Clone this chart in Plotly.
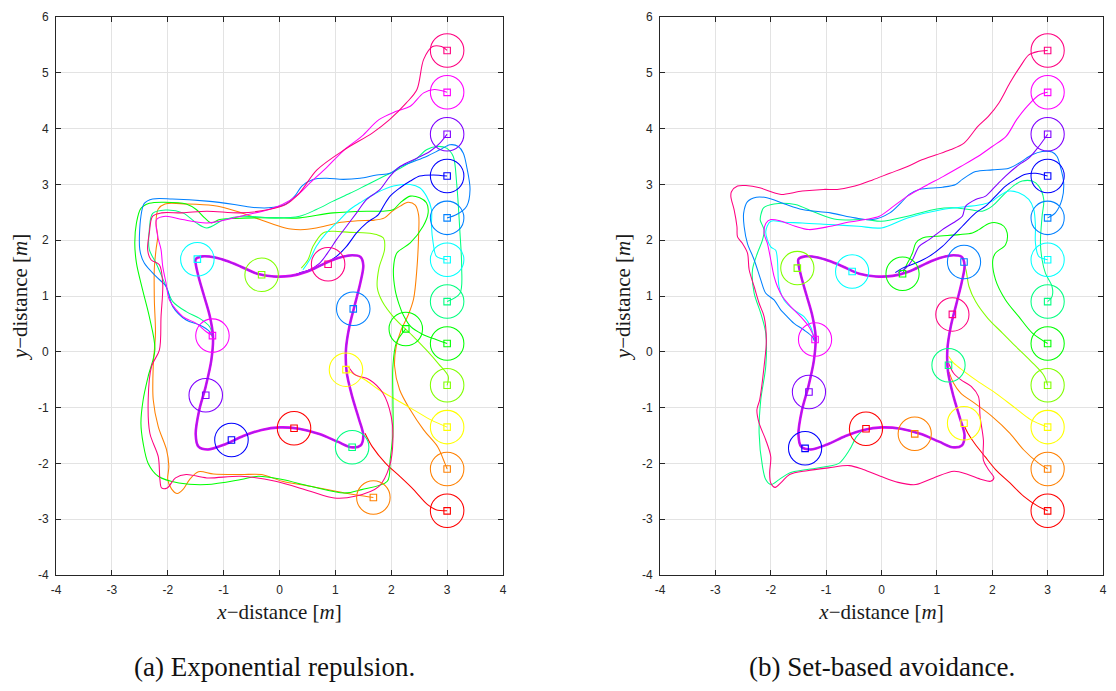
import plotly.graph_objects as go

# ---------------- data ----------------
AGENT_NAMES = ["red", "orange", "yellow", "yellowgreen", "green", "springgreen",
               "cyan", "azure", "blue", "violet", "magenta", "rose"]
AGENT_COLORS = ["#ff0000", "#ff8000", "#ffff00", "#80ff00", "#00ff00", "#00ff80",
                "#00ffff", "#0080ff", "#0000ff", "#8000ff", "#ff00ff", "#ff0080"]

START_X = [3, 3, 3, 3, 3, 3, 3, 3, 3, 3, 3, 3]
START_Y = [-2.85, -2.1, -1.35, -0.6, 0.15, 0.9, 1.65, 2.4, 3.15, 3.9, 4.65, 5.4]

FINAL_A_X = [0.26, 1.68, 1.19, -0.32, 2.26, 1.30, -1.47, 1.32, -0.86, -1.32, -1.20, 0.87]
FINAL_A_Y = [-1.37, -2.61, -0.32, 1.38, 0.41, -1.71, 1.66, 0.77, -1.58, -0.78, 0.29, 1.57]

FINAL_B_X = [-0.28, 0.60, 1.49, -1.52, 0.38, 1.21, -0.53, 1.49, -1.38, -1.31, -1.20, 1.28]
FINAL_B_Y = [-1.38, -1.47, -1.28, 1.50, 1.40, -0.24, 1.44, 1.61, -1.73, -0.72, 0.22, 0.67]

CIRCLE_R = 0.3

# reference loop (travelled counter-clockwise by all agents)
LOOP = [(-1.50, 1.66), (-1.38, 1.71), (-1.15, 1.69), (-0.95, 1.63), (-0.70, 1.53), (-0.40, 1.40),
        (-0.10, 1.35), (0.20, 1.36), (0.50, 1.44), (0.80, 1.58), (1.05, 1.68), (1.30, 1.73),
        (1.45, 1.70), (1.50, 1.55), (1.45, 1.25), (1.35, 0.85), (1.25, 0.45), (1.19, 0.05),
        (1.20, -0.35), (1.30, -0.80), (1.42, -1.20), (1.50, -1.50), (1.45, -1.68), (1.28, -1.71),
        (1.04, -1.61), (0.70, -1.47), (0.35, -1.38), (0.0, -1.355), (-0.32, -1.40), (-0.65, -1.51),
        (-0.98, -1.66), (-1.28, -1.75), (-1.45, -1.70), (-1.50, -1.48), (-1.44, -1.06), (-1.32, -0.62),
        (-1.22, -0.15), (-1.19, 0.28), (-1.25, 0.65), (-1.35, 1.00), (-1.45, 1.35), (-1.50, 1.58),
        (-1.50, 1.66)]

# ---- panel (a): exponential repulsion ----
a_red = [(3, -2.85), (2.80, -2.83), (2.65, -2.74), (2.40, -2.47), (2.15, -2.23), (1.90, -2.0),
         (1.66, -1.70), (1.53, -1.46)]
a_orange = [(3, -2.1), (2.96, -2.0), (2.83, -1.70), (2.58, -1.40), (2.34, -1.04), (2.15, -0.68),
            (2.06, -0.26), (2.09, 0.10), (2.18, 0.40), (2.30, 0.65), (2.40, 0.95), (2.46, 1.50),
            (2.49, 2.10), (2.49, 2.45), (2.43, 2.63), (2.30, 2.68), (2.16, 2.61), (2.02, 2.52),
            (1.88, 2.40), (1.70, 2.36), (1.40, 2.35), (1.10, 2.32), (0.80, 2.25), (0.45, 2.19),
            (0.20, 2.20), (0.0, 2.25), (-0.35, 2.37), (-0.77, 2.52), (-1.19, 2.62), (-1.67, 2.65),
            (-2.05, 2.65), (-2.17, 2.56), (-2.21, 2.31), (-2.18, 2.07), (-2.21, 1.83), (-2.24, 1.50),
            (-2.24, 0.93), (-2.22, 0.33), (-2.26, -0.26), (-2.26, -0.86), (-2.17, -1.34),
            (-2.02, -1.76), (-1.98, -2.05), (-2.0, -2.29), (-1.93, -2.46), (-1.83, -2.54),
            (-1.73, -2.47), (-1.61, -2.29), (-1.45, -2.15), (-1.18, -2.19), (-0.69, -2.20),
            (-0.32, -2.20), (0.05, -2.32), (0.55, -2.41), (1.16, -2.53), (1.47, -2.58), (1.68, -2.61)]
a_yellow = [(3, -1.35), (2.71, -1.22), (2.40, -1.04), (2.09, -0.86), (1.78, -0.68), (1.53, -0.50),
            (1.35, -0.41), (1.19, -0.32)]
a_yellowgreen = [(3, -0.6), (3.02, -0.44), (2.85, -0.22), (2.64, 0.02), (2.37, 0.30), (2.06, 0.60),
                 (1.84, 0.90), (1.75, 1.15), (1.78, 1.50), (1.88, 1.83), (1.86, 2.04), (1.74, 2.10),
                 (1.56, 2.13), (1.26, 2.14), (0.96, 2.16), (0.78, 2.13), (0.60, 1.89), (0.51, 1.65),
                 (0.39, 1.50)]
a_green = [(3, 0.15), (2.80, 0.22), (2.55, 0.32), (2.35, 0.45), (2.22, 0.65), (2.14, 0.85),
           (2.07, 1.11), (2.04, 1.50), (2.10, 1.77), (2.34, 1.95), (2.57, 2.25), (2.66, 2.49),
           (2.63, 2.67), (2.51, 2.76), (2.34, 2.79), (2.16, 2.67), (2.04, 2.55), (1.86, 2.52),
           (1.56, 2.52), (0.96, 2.49), (0.36, 2.40), (-0.05, 2.40), (-0.47, 2.40), (-0.80, 2.39),
           (-1.07, 2.37), (-1.22, 2.31), (-1.34, 2.40), (-1.49, 2.55), (-1.67, 2.65), (-2.09, 2.68),
           (-2.33, 2.66), (-2.48, 2.57), (-2.56, 2.31), (-2.59, 1.95), (-2.56, 1.59), (-2.45, 1.11),
           (-2.33, 0.63), (-2.23, 0.04), (-2.35, -0.44), (-2.44, -0.86), (-2.48, -1.28),
           (-2.44, -1.64), (-2.35, -2.0), (-2.17, -2.23), (-1.80, -2.35), (-1.30, -2.38),
           (-0.69, -2.29), (-0.38, -2.23), (0.05, -2.29), (0.55, -2.41), (1.16, -2.53),
           (1.47, -2.47), (1.93, -2.32), (1.98, -1.94), (2.03, -1.46), (2.03, -0.86), (2.03, -0.26),
           (2.09, 0.16), (2.26, 0.41)]
a_springgreen = [(3, 0.9), (3.23, 1.05), (3.26, 1.53), (3.23, 2.13), (3.17, 3.03), (3.11, 3.50),
                 (2.99, 3.65), (2.81, 3.68), (2.63, 3.62), (2.46, 3.47), (2.16, 3.29), (1.86, 3.14),
                 (1.56, 2.99), (1.26, 2.84), (0.96, 2.70), (0.66, 2.55), (0.36, 2.43), (-0.07, 2.40),
                 (-0.69, 2.43), (-0.99, 2.37), (-1.30, 2.22), (-1.49, 2.31), (-1.73, 2.49),
                 (-2.04, 2.54), (-2.27, 2.48), (-2.33, 2.19), (-2.33, 1.83), (-2.21, 1.59),
                 (-2.03, 1.17), (-1.91, 0.90), (-1.67, 0.72), (-1.43, 0.60), (-1.25, 0.45), (-1.20, 0.27)]
a_cyan = [(3, 1.65), (2.81, 1.71), (2.75, 1.95), (2.72, 2.25), (2.72, 2.55), (2.63, 2.79),
          (2.51, 2.94), (2.34, 3.0), (2.04, 2.97), (1.74, 2.85), (1.44, 2.67), (1.26, 2.55),
          (1.08, 2.37), (0.84, 2.13), (0.66, 1.89), (0.54, 1.65), (0.42, 1.47)]
a_azure = [(3, 2.4), (3.17, 2.46), (3.35, 2.61), (3.41, 2.91), (3.35, 3.32), (3.29, 3.56),
           (3.20, 3.68), (3.05, 3.71), (2.87, 3.62), (2.63, 3.50), (2.40, 3.41), (2.16, 3.32),
           (1.98, 3.20), (1.74, 3.17), (1.44, 3.11), (1.14, 3.09), (0.84, 3.11), (0.60, 3.09),
           (0.40, 2.97), (0.28, 2.80), (0.10, 2.64), (-0.20, 2.58), (-0.50, 2.59), (-0.81, 2.64),
           (-1.30, 2.70), (-1.92, 2.74), (-2.27, 2.74), (-2.42, 2.66), (-2.48, 2.43), (-2.50, 1.83),
           (-2.42, 1.59), (-2.21, 1.35), (-2.03, 1.17), (-1.91, 0.81), (-1.67, 0.57), (-1.43, 0.48),
           (-1.25, 0.36), (-1.20, 0.27)]
a_blue = [(3, 3.15), (2.75, 3.17), (2.51, 3.15), (2.34, 3.06), (2.16, 2.94), (1.98, 2.79),
          (1.86, 2.61), (1.77, 2.46), (1.56, 2.31), (1.38, 2.13), (1.20, 1.89), (1.02, 1.71),
          (0.78, 1.56), (0.54, 1.47), (0.35, 1.41)]
a_violet = [(3, 3.9), (2.87, 3.74), (2.69, 3.59), (2.46, 3.47), (2.16, 3.32), (1.98, 3.15),
            (1.80, 2.91), (1.56, 2.73), (1.38, 2.49), (1.20, 2.25), (1.02, 2.01), (0.90, 1.83),
            (0.72, 1.59), (0.48, 1.44), (0.30, 1.40)]
a_magenta = [(3, 4.65), (2.77, 4.70), (2.58, 4.64), (2.34, 4.40), (2.09, 4.31), (1.78, 4.16),
             (1.47, 3.86), (1.16, 3.62), (0.86, 3.32), (0.55, 3.03), (0.30, 2.79), (0.05, 2.64),
             (-0.19, 2.55), (-0.69, 2.43), (-1.30, 2.31), (-1.74, 2.37), (-2.04, 2.43), (-2.20, 2.37),
             (-2.18, 2.07), (-2.12, 1.83), (-2.09, 1.53), (-2.03, 1.23), (-1.97, 0.93), (-1.73, 0.63),
             (-1.49, 0.51), (-1.31, 0.36), (-1.20, 0.29)]
a_rose = [(3, 5.4), (2.90, 5.47), (2.74, 5.47), (2.58, 5.24), (2.46, 4.70), (2.27, 4.46),
          (1.97, 4.16), (1.66, 3.92), (1.16, 3.62), (0.67, 3.26), (0.36, 2.85), (0.11, 2.64),
          (-0.19, 2.55), (-0.69, 2.49), (-1.30, 2.52), (-1.74, 2.49), (-2.11, 2.49), (-2.27, 2.43),
          (-2.33, 2.13), (-2.36, 1.83), (-2.30, 1.65), (-2.15, 1.56), (-2.09, 1.23), (-2.12, 0.63),
          (-2.15, 0.03), (-2.29, -0.26), (-2.35, -0.86), (-2.32, -1.46), (-2.17, -1.88),
          (-2.14, -2.29), (-2.11, -2.44), (-2.01, -2.44), (-1.86, -2.26), (-1.67, -2.20),
          (-1.30, -2.26), (-0.69, -2.23), (-0.07, -2.32), (0.55, -2.50), (0.98, -2.62),
          (1.35, -2.59), (1.78, -2.41), (1.97, -2.05), (2.03, -1.58), (2.0, -1.16), (1.85, -0.74),
          (1.61, -0.50), (1.35, -0.41), (1.23, -0.26)]

# ---- panel (b): set-based avoidance ----
b_red = [(3, -2.85), (2.83, -2.77), (2.57, -2.59), (2.32, -2.35), (2.06, -2.11), (1.87, -1.88),
         (1.68, -1.64), (1.56, -1.46), (1.50, -1.34)]
b_orange = [(3, -2.1), (2.83, -1.99), (2.57, -1.76), (2.32, -1.46), (2.0, -1.16), (1.68, -0.92),
            (1.43, -0.74), (1.30, -0.56), (1.22, -0.36)]
b_yellow = [(3, -1.35), (2.70, -1.22), (2.38, -0.98), (2.06, -0.74), (1.74, -0.53), (1.49, -0.35),
            (1.30, -0.20), (1.21, -0.08)]
b_yellowgreen = [(3, -0.6), (2.93, -0.42), (2.70, -0.17), (2.40, 0.12), (2.18, 0.34), (1.92, 0.60),
                 (1.70, 0.90), (1.58, 1.17), (1.53, 1.45), (1.49, 1.59)]
b_green = [(3, 0.15), (2.72, 0.34), (2.48, 0.63), (2.24, 0.93), (2.06, 1.29), (2.01, 1.65),
           (2.06, 1.77), (2.24, 1.92), (2.27, 2.13), (2.21, 2.25), (2.09, 2.31), (1.94, 2.30),
           (1.76, 2.19), (1.64, 2.13), (1.40, 2.10), (0.98, 2.07), (0.74, 2.04), (0.62, 1.95),
           (0.56, 1.77), (0.47, 1.59), (0.38, 1.40)]
b_springgreen = [(3, 0.9), (3.08, 0.99), (3.08, 1.17), (2.96, 1.41), (2.90, 1.65), (2.87, 1.95),
                 (2.90, 2.43), (2.93, 2.73), (2.84, 2.97), (2.72, 3.06), (2.54, 3.06), (2.42, 3.00),
                 (2.24, 2.85), (2.0, 2.61), (1.82, 2.52), (1.58, 2.55), (1.28, 2.58), (1.0, 2.56),
                 (0.47, 2.43), (0.0, 2.34), (-0.29, 2.37), (-0.80, 2.37), (-1.18, 2.49),
                 (-1.56, 2.64), (-1.94, 2.65), (-2.13, 2.58), (-2.18, 2.45), (-2.19, 2.36),
                 (-2.12, 2.18), (-2.15, 2.0), (-2.24, 1.77), (-2.33, 1.47), (-2.30, 1.05),
                 (-2.18, 0.69), (-2.09, 0.33), (-2.09, -0.26), (-2.18, -0.86), (-2.21, -1.46),
                 (-2.15, -2.05), (-2.09, -2.29), (-2.0, -2.38), (-1.85, -2.29), (-1.66, -2.17),
                 (-1.34, -2.11), (-0.96, -2.05), (-0.77, -2.0), (-0.58, -1.76), (-0.45, -1.52),
                 (-0.33, -1.40)]
b_cyan = [(3, 1.65), (2.84, 1.71), (2.78, 1.95), (2.78, 2.25), (2.75, 2.55), (2.66, 2.73),
          (2.48, 2.85), (2.30, 2.88), (2.12, 2.79), (2.0, 2.70), (1.82, 2.64), (1.52, 2.60),
          (1.10, 2.55), (0.47, 2.40), (0.0, 2.22), (-0.42, 2.25), (-0.93, 2.28), (-1.43, 2.31),
          (-1.75, 2.32), (-2.0, 2.34), (-2.09, 2.15), (-2.0, 1.88), (-1.91, 1.82), (-1.88, 1.65),
          (-1.85, 1.17), (-1.76, 0.93), (-1.58, 0.75), (-1.40, 0.63), (-1.28, 0.45), (-1.21, 0.21)]
b_azure = [(3, 2.4), (3.14, 2.49), (3.26, 2.73), (3.29, 3.03), (3.23, 3.32), (3.17, 3.50),
           (3.08, 3.58), (2.90, 3.59), (2.72, 3.53), (2.48, 3.38), (2.30, 3.29), (2.0, 3.26),
           (1.70, 3.23), (1.46, 3.09), (1.34, 3.00), (1.10, 2.95), (0.68, 2.91), (0.50, 2.82),
           (0.35, 2.67), (0.15, 2.49), (-0.16, 2.37), (-0.48, 2.40), (-0.92, 2.49), (-1.43, 2.55),
           (-1.75, 2.65), (-2.07, 2.76), (-2.26, 2.77), (-2.42, 2.69), (-2.49, 2.48), (-2.48, 2.24),
           (-2.42, 1.94), (-2.30, 1.65), (-2.18, 1.29), (-2.09, 1.05), (-1.94, 0.93), (-1.82, 0.75),
           (-1.76, 0.69), (-1.58, 0.51), (-1.40, 0.39), (-1.25, 0.27), (-1.21, 0.19)]
b_blue = [(3, 3.15), (2.78, 3.20), (2.60, 3.18), (2.42, 3.09), (2.24, 2.97), (2.06, 2.79),
          (1.88, 2.61), (1.70, 2.49), (1.46, 2.25), (1.28, 2.07), (1.10, 1.89), (0.86, 1.71),
          (0.62, 1.59), (0.38, 1.50), (0.25, 1.42)]
b_violet = [(3, 3.9), (2.84, 3.68), (2.66, 3.47), (2.48, 3.35), (2.24, 3.15), (2.06, 2.97),
            (1.88, 2.79), (1.70, 2.73), (1.52, 2.61), (1.46, 2.43), (1.34, 2.34), (1.10, 2.19),
            (0.86, 2.01), (0.68, 1.89), (0.56, 1.65), (0.44, 1.50), (0.30, 1.42)]
b_magenta = [(3, 4.65), (2.86, 4.61), (2.63, 4.40), (2.44, 4.16), (2.25, 3.86), (2.0, 3.68),
             (1.74, 3.50), (1.43, 3.32), (1.11, 3.14), (0.79, 2.97), (0.47, 2.79), (0.22, 2.61),
             (-0.04, 2.43), (-0.29, 2.37), (-0.61, 2.32), (-0.92, 2.25), (-1.31, 2.19),
             (-1.56, 2.25), (-1.81, 2.34), (-2.0, 2.37), (-2.09, 2.30), (-2.12, 2.12), (-2.06, 1.94),
             (-2.0, 1.65), (-1.94, 1.35), (-1.88, 1.17), (-1.79, 0.99), (-1.64, 0.81), (-1.46, 0.63),
             (-1.31, 0.45), (-1.22, 0.27), (-1.20, 0.22)]
b_rose = [(3, 5.4), (2.82, 5.38), (2.66, 5.32), (2.51, 5.12), (2.32, 4.82), (2.12, 4.46),
          (1.93, 4.22), (1.74, 4.04), (1.49, 3.74), (1.24, 3.62), (0.99, 3.53), (0.73, 3.44),
          (0.47, 3.32), (0.15, 3.20), (-0.16, 3.08), (-0.48, 2.97), (-0.80, 2.91), (-1.05, 2.91),
          (-1.43, 2.88), (-1.81, 2.82), (-1.94, 2.85), (-2.20, 2.94), (-2.45, 2.98), (-2.60, 2.97),
          (-2.71, 2.87), (-2.72, 2.78), (-2.66, 2.54), (-2.61, 2.24), (-2.60, 2.06), (-2.51, 1.94),
          (-2.42, 1.77), (-2.39, 1.47), (-2.30, 1.17), (-2.21, 0.87), (-2.12, 0.63), (-2.08, 0.20),
          (-2.12, -0.26), (-2.20, -0.86), (-2.25, -1.04), (-2.21, -1.28), (-2.09, -1.58),
          (-2.0, -1.88), (-2.02, -2.17), (-2.0, -2.35), (-1.92, -2.43), (-1.81, -2.34),
          (-1.66, -2.20), (-1.34, -2.13), (-0.96, -2.08), (-0.58, -2.04), (-0.33, -2.11),
          (-0.02, -2.23), (0.30, -2.34), (0.62, -2.38), (0.94, -2.26), (1.31, -2.14), (1.56, -2.20),
          (1.81, -2.29), (1.97, -2.32), (2.03, -2.26), (1.93, -2.11), (1.84, -1.94), (1.84, -1.58),
          (1.78, -1.16), (1.75, -0.80), (1.62, -0.62), (1.43, -0.50), (1.30, -0.38), (1.21, -0.20)]

PATHS_A = [a_red, a_orange, a_yellow, a_yellowgreen, a_green, a_springgreen,
           a_cyan, a_azure, a_blue, a_violet, a_magenta, a_rose]
PATHS_B = [b_red, b_orange, b_yellow, b_yellowgreen, b_green, b_springgreen,
           b_cyan, b_azure, b_blue, b_violet, b_magenta, b_rose]

TICK_X = [-4, -3, -2, -1, 0, 1, 2, 3, 4]
TICK_Y = [-4, -3, -2, -1, 0, 1, 2, 3, 4, 5, 6]
CAPTIONS = ["(a) Exponential repulsion.", "(b) Set-based avoidance."]
X_TITLE = "<i>x</i>\u2212distance [<i>m</i>]"
Y_TITLE = "<i>y</i>\u2212distance [<i>m</i>]"

# ---------------- figure ----------------
# The page keeps the browser's default 8px body margin, so the figure is
# 16px smaller than the window and all pixel positions are shifted by 8.
W, H = 1100, 675
OFF = 8
fig = go.Figure()

panels = [
    ("x", "y", PATHS_A, FINAL_A_X, FINAL_A_Y),
    ("x2", "y2", PATHS_B, FINAL_B_X, FINAL_B_Y),
]

shapes = []
for xr, yr, paths, fx, fy in panels:
    for i, path in enumerate(paths):
        fig.add_trace(go.Scatter(
            x=[p[0] for p in path], y=[p[1] for p in path], xaxis=xr, yaxis=yr,
            mode="lines", line=dict(color=AGENT_COLORS[i], width=1.05, shape="spline", smoothing=0.9),
            hoverinfo="skip", showlegend=False))
    # reference loop, drawn thicker (overlapping agents)
    fig.add_trace(go.Scatter(
        x=[p[0] for p in LOOP], y=[p[1] for p in LOOP], xaxis=xr, yaxis=yr, mode="lines",
        line=dict(color="#f000f0", width=2.6, shape="spline", smoothing=0.9),
        hoverinfo="skip", showlegend=False))
    fig.add_trace(go.Scatter(
        x=[p[0] for p in LOOP], y=[p[1] for p in LOOP], xaxis=xr, yaxis=yr, mode="lines",
        line=dict(color="#a020f0", width=1.4, shape="spline", smoothing=0.9),
        hoverinfo="skip", showlegend=False))
    # square markers at start and final positions
    fig.add_trace(go.Scatter(
        x=START_X + fx, y=START_Y + fy, xaxis=xr, yaxis=yr, mode="markers",
        marker=dict(symbol="square-open", size=6.5, color=AGENT_COLORS + AGENT_COLORS,
                    line=dict(width=1.1)),
        hoverinfo="skip", showlegend=False))
    # circles around start and final positions
    for i in range(len(AGENT_COLORS)):
        for cx, cy in ((START_X[i], START_Y[i]), (fx[i], fy[i])):
            shapes.append(dict(type="circle", xref=xr, yref=yr,
                               x0=cx - CIRCLE_R, x1=cx + CIRCLE_R,
                               y0=cy - CIRCLE_R, y1=cy + CIRCLE_R,
                               line=dict(color=AGENT_COLORS[i], width=1.05), layer="above"))

AX_COLOR = "#262626"
TITLE_FONT = dict(family="Liberation Serif, DejaVu Serif", size=21, color="#1a1a1a")
TICK_FONT = dict(family="Liberation Sans, Arial", size=12, color=AX_COLOR)
CAPTION_FONT = dict(family="Liberation Serif, DejaVu Serif", size=27, color="#111111")
common_x = dict(range=[-4, 4], tickvals=TICK_X, ticktext=[str(v) for v in TICK_X],
                showgrid=True, gridcolor="#e3e3e3", gridwidth=1, zeroline=False,
                showline=True, linecolor=AX_COLOR, linewidth=1, mirror="allticks",
                ticks="inside", ticklen=5, tickcolor=AX_COLOR, tickfont=TICK_FONT,
                ticklabelstandoff=4, ticklabeloverflow="allow", automargin=False,
                title=dict(text=X_TITLE, standoff=7, font=TITLE_FONT),
                fixedrange=True)
common_y = dict(range=[-4, 6], tickvals=TICK_Y, ticktext=[str(v) for v in TICK_Y],
                showgrid=True, gridcolor="#e3e3e3", gridwidth=1, zeroline=False,
                showline=True, linecolor=AX_COLOR, linewidth=1, mirror="allticks",
                ticks="inside", ticklen=5, tickcolor=AX_COLOR, tickfont=TICK_FONT,
                ticklabelstandoff=4, ticklabeloverflow="allow", automargin=False,
                title=dict(text=Y_TITLE, standoff=5, font=TITLE_FONT),
                fixedrange=True)

def px_x(p):
    return (p - OFF) / W

def px_y(p):
    return 1 - (p - OFF) / H

fig.update_layout(
    width=W, height=H, margin=dict(l=0, r=0, t=0, b=0, autoexpand=False),
    paper_bgcolor="white", plot_bgcolor="white",
    xaxis=dict(domain=[px_x(56), px_x(503)], anchor="y", **common_x),
    yaxis=dict(domain=[px_y(575), px_y(17)], anchor="x", **common_y),
    xaxis2=dict(domain=[px_x(660), px_x(1103)], anchor="y2", **common_x),
    yaxis2=dict(domain=[px_y(575), px_y(17)], anchor="x2", **common_y),
    shapes=shapes,
    annotations=[
        dict(text=CAPTIONS[0], x=px_x(274), y=px_y(683), xref="paper", yref="paper",
             showarrow=False, xanchor="center", yanchor="bottom", borderpad=0,
             font=CAPTION_FONT),
        dict(text=CAPTIONS[1], x=px_x(882), y=px_y(683), xref="paper", yref="paper",
             showarrow=False, xanchor="center", yanchor="bottom", borderpad=0,
             font=CAPTION_FONT),
    ],
)

fig.write_html("out.html", config={"displayModeBar": False})
